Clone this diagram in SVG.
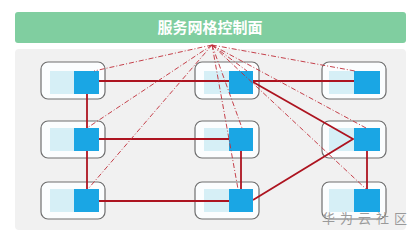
<svg xmlns="http://www.w3.org/2000/svg" width="418" height="241" viewBox="0 0 418 241">
<style>
.outer{fill:#fbfdfe;stroke:#6f6f6f;stroke-width:1.2}
.light{fill:#d6eff6}
.dark{fill:#1aa6e4}
.solid{stroke:#ad1420;stroke-width:1.8;fill:none}
.dash{stroke:#bf2d38;stroke-width:0.9;fill:none;stroke-dasharray:5 2 1 2}
</style>
<rect x="0" y="0" width="418" height="241" fill="#ffffff"/>
<g id="control-plane">
<rect x="15" y="12" width="391" height="31" rx="3" fill="#80cea0"/>
<text x="210" y="33" text-anchor="middle" font-family="'Noto Sans CJK SC','Noto Sans',sans-serif" font-size="15" font-weight="bold" fill="#ffffff">服务网格控制面</text>
</g>
<rect x="15" y="49" width="391" height="181" rx="4" fill="#f1f1f1"/>
<g id="n11"><rect class="outer" x="41" y="62" width="64" height="37" rx="7"/><rect class="light" x="50" y="71" width="24" height="23"/></g>
<g id="n12"><rect class="outer" x="195" y="62" width="64" height="37" rx="7"/><rect class="light" x="204" y="71" width="25" height="23"/></g>
<g id="n13"><rect class="outer" x="322" y="62" width="64" height="37" rx="7"/><rect class="light" x="329" y="71" width="25" height="23"/></g>
<g id="n21"><rect class="outer" x="41" y="121" width="64" height="37" rx="7"/><rect class="light" x="50" y="128" width="24" height="23"/></g>
<g id="n22"><rect class="outer" x="195" y="121" width="64" height="37" rx="7"/><rect class="light" x="204" y="128" width="25" height="23"/></g>
<g id="n23"><rect class="outer" x="322" y="121" width="64" height="37" rx="7"/><rect class="light" x="329" y="128" width="25" height="23"/></g>
<g id="n31"><rect class="outer" x="41" y="182" width="64" height="37" rx="7"/><rect class="light" x="50" y="189" width="24" height="23"/></g>
<g id="n32"><rect class="outer" x="195" y="182" width="64" height="37" rx="7"/><rect class="light" x="204" y="189" width="25" height="23"/></g>
<g id="n33"><rect class="outer" x="322" y="182" width="64" height="37" rx="7"/><rect class="light" x="329" y="189" width="25" height="23"/></g>
<g id="connectors">
<line class="solid" x1="99" y1="81" x2="354" y2="81"/>
<line class="solid" x1="99" y1="139" x2="229" y2="139"/>
<line class="solid" x1="99" y1="201" x2="229" y2="201"/>
<line class="solid" x1="87" y1="94" x2="87" y2="128"/>
<line class="solid" x1="87" y1="151" x2="87" y2="189"/>
<line class="solid" x1="241" y1="151" x2="241" y2="189"/>
<line class="solid" x1="367" y1="151" x2="367" y2="189"/>
<polyline class="solid" points="253,82 353,139 253,200"/>
</g>
<g id="dark-boxes">
<rect class="dark" x="74" y="71" width="25" height="23"/>
<rect class="dark" x="229" y="71" width="24" height="23"/>
<rect class="dark" x="354" y="71" width="26" height="23"/>
<rect class="dark" x="74" y="128" width="25" height="23"/>
<rect class="dark" x="229" y="128" width="24" height="23"/>
<rect class="dark" x="354" y="128" width="26" height="23"/>
<rect class="dark" x="74" y="189" width="25" height="23"/>
<rect class="dark" x="229" y="189" width="24" height="23"/>
<rect class="dark" x="354" y="189" width="26" height="23"/>
</g>
<g id="control-links">
<line class="dash" x1="212" y1="45" x2="94" y2="71"/>
<line class="dash" x1="212" y1="45" x2="87" y2="128"/>
<line class="dash" x1="212" y1="45" x2="88" y2="189"/>
<line class="dash" x1="212" y1="45" x2="247" y2="71"/>
<line class="dash" x1="212" y1="45" x2="242" y2="128"/>
<line class="dash" x1="212" y1="45" x2="238" y2="189"/>
<line class="dash" x1="212" y1="45" x2="355" y2="71"/>
<line class="dash" x1="212" y1="45" x2="366" y2="128"/>
<line class="dash" x1="212" y1="45" x2="366" y2="189"/>
</g>
<text x="322" y="223" font-family="'Noto Sans CJK SC',sans-serif" font-size="13" fill="#9a9a9a" letter-spacing="5">华为云社区</text>
</svg>
